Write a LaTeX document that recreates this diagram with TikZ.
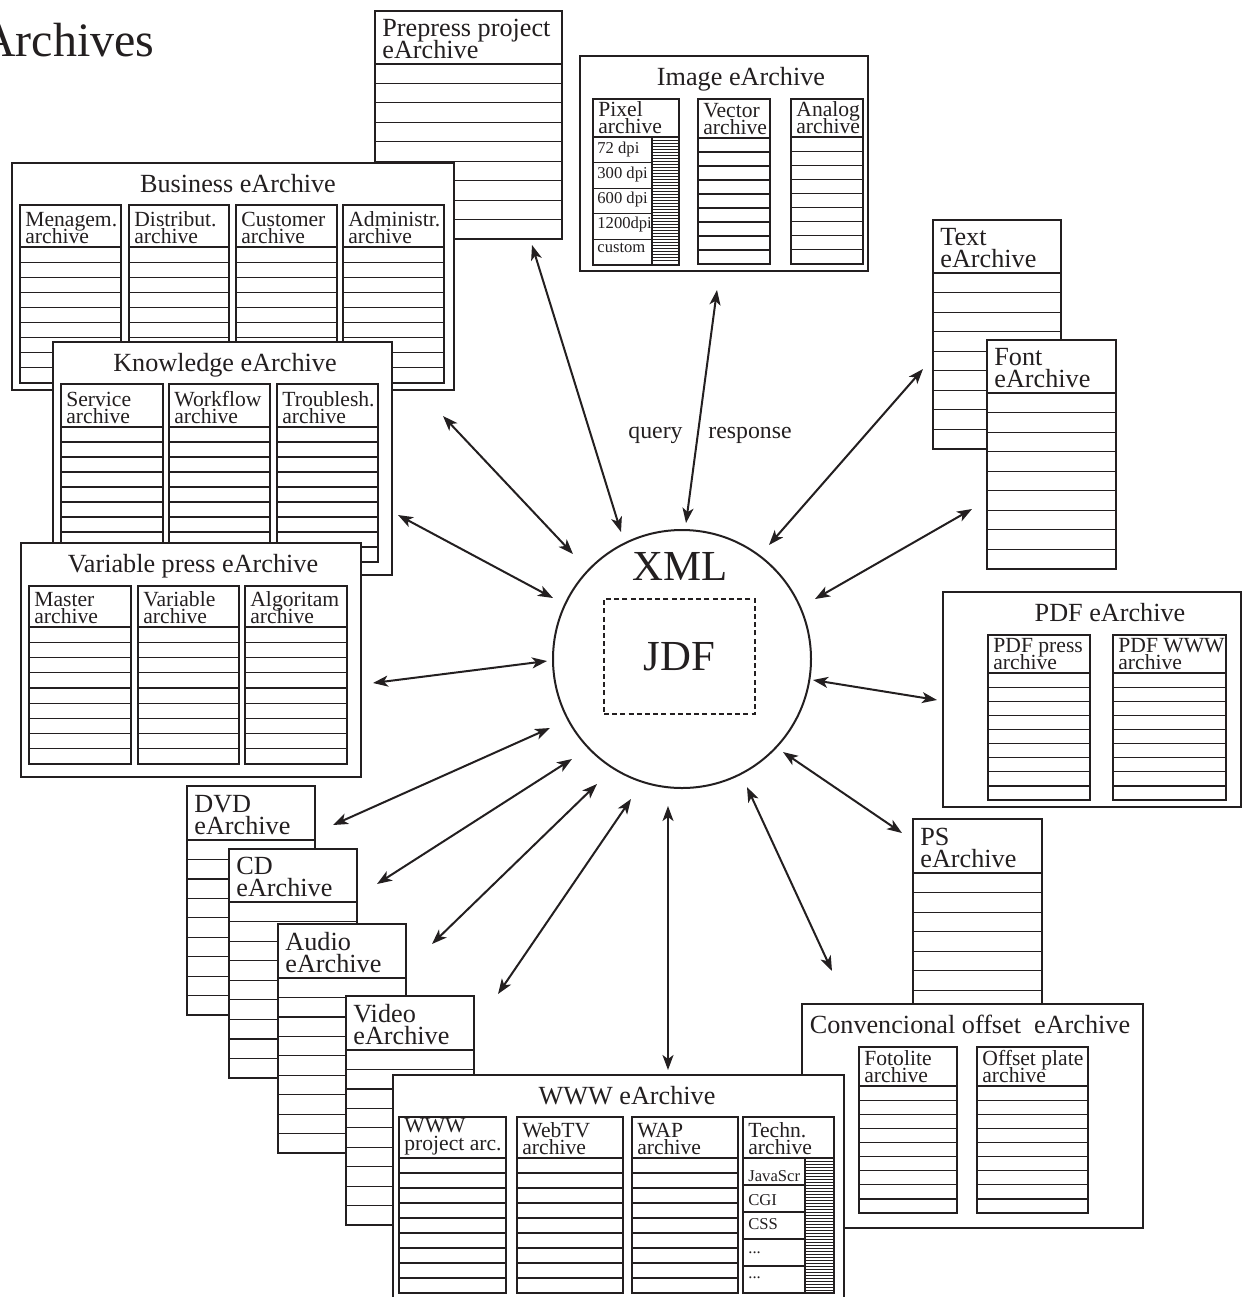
\documentclass[tikz,border=0pt]{standalone}
\usepackage{fontspec}
\setmainfont{Liberation Serif}
\usetikzlibrary{arrows.meta}
\definecolor{ink}{RGB}{35,31,32}
\setlength{\lineskiplimit}{-20pt}

\newcommand{\onebox}[7]{%
	\draw[frame] (#2,#3) rectangle (#4,#5);
	\foreach \k in {0,...,8} \draw[row] (#2,{#6+\k*(#5-#6)/9}) -- (#4,{#6+\k*(#5-#6)/9});
	\node[boxhead] (#1) at (#2+7,#6-5) {#7};
}
\newcommand{\onecol}[7]{%
	\draw[col] (#2,#3) rectangle (#4,#5);
	\foreach \k in {0,...,8} \draw[row] (#2,{#6+\k*(#5-#6)/9}) -- (#4,{#6+\k*(#5-#6)/9});
	\node[colhead] (#1) at (#2+5,#6-3) {#7};
}
\newcommand{\hatchcol}[8]{%
	\draw[col] (#2,#3) rectangle (#4,#5);
	\draw[row] (#2,#6) -- (#4,#6) (#7,#6) -- (#7,#5);
	\foreach \k in {1,...,4} \draw[row] (#2,{#6+\k*(#5-#6)/5}) -- (#7,{#6+\k*(#5-#6)/5});
	\pgfmathtruncatemacro\nh{(#5-#6)/3-1}
	\foreach \h in {1,...,\nh} \draw[hatch] (#7,{#6+3*\h}) -- (#4,{#6+3*\h});
	\node[colhead] (#1) at (#2+5,#6-3) {#8};
}
\newcommand{\groupbox}[7]{%
	\draw[frame] (#2,#3) rectangle (#4,#5);
	\node[grouphead] (#1) at (#6,#3+29) {#7};
}

\begin{document}
\begin{tikzpicture}[x=0.5pt, y=-0.5pt, color=ink, >={Stealth[length=7.5pt,width=5.5pt,inset=2pt]},
	frame/.style={draw, fill=white, line width=1.4pt},
	col/.style={draw, fill=white, line width=0.9pt},
	row/.style={line width=0.6pt},
	hatch/.style={line width=0.35pt},
	boxhead/.style={anchor=south west, inner sep=0pt, align=left, font=\fontsize{13.1}{11}\selectfont},
	colhead/.style={anchor=south west, inner sep=0pt, align=left, font=\fontsize{10.8}{8.6}\selectfont},
	grouphead/.style={anchor=base, inner sep=0pt, font=\fontsize{13.1}{15}\selectfont},
	cell/.style={anchor=base west, inner sep=0pt, font=\fontsize{8.3}{10}\selectfont},
	label/.style={inner sep=0pt, font=\fontsize{11.9}{14}\selectfont},
	big/.style={inner sep=0pt, font=\fontsize{21.4}{25}\selectfont},
	link/.style={<->, line width=1pt}]
	\useasboundingbox (0,0) rectangle (1243,1297);
	\clip (0,0) rectangle (1243,1297);
	\node[anchor=base east, inner sep=0pt, font=\fontsize{24}{28}\selectfont] (title) at (155,56) {Archives};

	\onebox{pre}{375}{11}{562}{239}{64}{Prepress project\\eArchive}

	\groupbox{bus}{12}{163}{454}{390}{238}{Business eArchive}
	\onecol{busa}{20}{205}{121}{383}{247}{Menagem.\\archive}
	\onecol{busb}{129}{205}{229}{383}{247}{Distribut.\\archive}
	\onecol{busc}{236}{205}{337}{383}{247}{Customer\\archive}
	\onecol{busd}{343}{205}{444}{383}{247}{Administr.\\archive}

	\groupbox{kno}{53}{342}{392}{575}{225}{Knowledge eArchive}
	\onecol{knoa}{61}{384}{163}{562}{427}{Service\\archive}
	\onecol{knob}{169}{384}{270}{562}{427}{Workflow\\archive}
	\onecol{knoc}{277}{384}{378}{562}{427}{Troublesh.\\archive}

	\groupbox{var}{21}{543}{361}{777}{193}{Variable press eArchive}
	\onecol{vara}{29}{586}{131}{764}{627}{Master\\archive}
	\onecol{varb}{138}{586}{239}{764}{627}{Variable\\archive}
	\onecol{varc}{245}{586}{347}{764}{627}{Algoritam\\archive}

	\groupbox{img}{580}{56}{868}{271}{741}{Image eArchive}
	\hatchcol{imga}{593}{99}{679}{265}{137}{652}{Pixel\\archive}
	\onecol{imgb}{698}{99}{770}{264}{138}{Vector\\archive}
	\onecol{imgc}{791}{99}{863}{264}{137}{Analog\\archive}
	\foreach \t/\yy [count=\i] in {72 dpi/153, 300 dpi/178, 600 dpi/203, 1200dpi/228, custom/252}
		\node[cell] (px\i) at (597,\yy) {\t};

	\onebox{txt}{933}{220}{1061}{449}{273}{Text\\eArchive}
	\onebox{fnt}{987}{340}{1116}{569}{393}{Font\\eArchive}

	\groupbox{pdf}{943}{592}{1241}{807}{1110}{PDF eArchive}
	\onecol{pdfa}{988}{635}{1090}{800}{673}{PDF press\\archive}
	\onecol{pdfb}{1113}{635}{1226}{800}{673}{PDF WWW\\archive}

	\onebox{ps}{913}{819}{1042}{1049}{873}{PS\\eArchive}
	\groupbox{con}{802}{1004}{1143}{1228}{970}{Convencional offset\ \ eArchive}
	\onecol{cona}{859}{1047}{957}{1213}{1086}{Fotolite\\archive}
	\onecol{conb}{977}{1047}{1088}{1213}{1086}{Offset plate\\archive}

	\onebox{dvd}{187}{786}{315}{1015}{840}{DVD\\eArchive}
	\onebox{cd}{229}{849}{357}{1078}{902}{CD\\eArchive}
	\onebox{aud}{278}{924}{406}{1153}{978}{Audio\\eArchive}
	\onebox{vid}{346}{996}{474}{1225}{1050}{Video\\eArchive}

	\groupbox{www}{393}{1075}{844}{1320}{627}{WWW eArchive}
	\onecol{wwwa}{399}{1117}{506}{1293}{1158}{WWW\\project arc.}
	\onecol{wwwb}{517}{1117}{623}{1293}{1158}{WebTV\\archive}
	\onecol{wwwc}{632}{1117}{738}{1293}{1158}{WAP\\archive}
	\hatchcol{wwwd}{743}{1117}{834}{1293}{1158}{805}{Techn.\\archive}
	\foreach \t/\yy [count=\i] in {JavaScr/1181, CGI/1205, CSS/1229}
		\node[cell] (tc\i) at (748,\yy) {\t};
	\node[cell] (tc4) at (748,1253) {...};
	\node[cell] (tc5) at (748,1278) {...};

	\node[draw, circle, line width=1pt, minimum size=129pt, inner sep=0pt] (xml) at (682,659) {};
	\node[big, anchor=base] (xmltxt) at (680,580) {XML};
	\node[big, draw, dash pattern=on 2.5pt off 1.6pt, line width=1pt, minimum width=75.5pt, minimum height=57.5pt] (jdf) at (679.5,656.5) {JDF};

	\node[label, anchor=base east] (query) at (683,438) {query};
	\node[label, anchor=base west] (resp) at (708,438) {response};

	\coordinate (pre-a) at (532,245); \coordinate (pre-b) at (621,532);
	\coordinate (img-a) at (717,290); \coordinate (img-b) at (686,523);
	\coordinate (txt-a) at (923,369); \coordinate (txt-b) at (769,545);
	\coordinate (fnt-a) at (972,509); \coordinate (fnt-b) at (815,599);
	\coordinate (pdf-a) at (937,700); \coordinate (pdf-b) at (813,680);
	\coordinate (ps-a) at (902,833); \coordinate (ps-b) at (783,752);
	\coordinate (con-a) at (832,971); \coordinate (con-b) at (747,787);
	\coordinate (www-a) at (668,1070); \coordinate (www-b) at (668,806);
	\coordinate (vid-a) at (498,994); \coordinate (vid-b) at (631,799);
	\coordinate (aud-a) at (432,944); \coordinate (aud-b) at (597,784);
	\coordinate (cd-a) at (377,884); \coordinate (cd-b) at (572,759);
	\coordinate (dvd-a) at (333,825); \coordinate (dvd-b) at (550,728);
	\coordinate (var-a) at (373,683); \coordinate (var-b) at (547,661);
	\coordinate (kno-a) at (398,515); \coordinate (kno-b) at (553,598);
	\coordinate (bus-a) at (443,416); \coordinate (bus-b) at (573,554);
	\foreach \a in {pre,img,txt,fnt,pdf,ps,con,www,vid,aud,cd,dvd,var,kno,bus}
		\draw[link] (\a-a) -- (\a-b);
\end{tikzpicture}
\end{document}
